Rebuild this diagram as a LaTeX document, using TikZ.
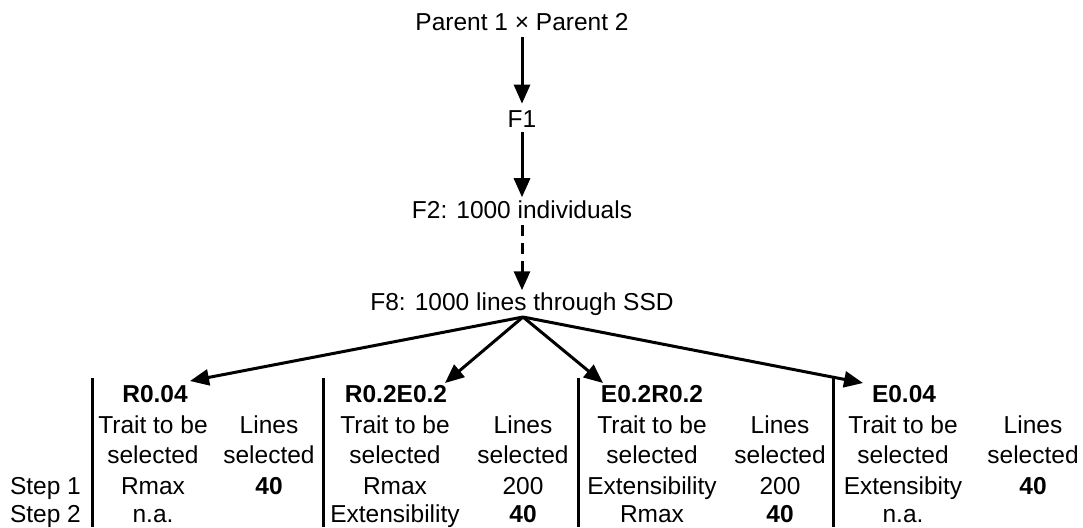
\documentclass[tikz,border=0pt]{standalone}
\usepackage{fontspec}
\setmainfont{Liberation Sans}
\usetikzlibrary{arrows.meta}
\begin{document}
\begin{tikzpicture}[x=1pt,y=-1pt,
  every node/.style={inner sep=0pt, outer sep=0pt, anchor=base, font=\fontsize{24.5}{30}\selectfont},
  hd/.style={font=\fontsize{24.5}{30}\selectfont\bfseries},
  lbl/.style={anchor=base west},
  arr/.style={line width=3pt, -{Triangle[length=19pt,width=16pt]}},
  dashedarr/.style={arr, dash pattern=on 11pt off 7pt},
  sep/.style={line width=3pt},
]
\useasboundingbox (0,0) rectangle (1083,527);
% main chain
\node (p)  at (522,31)  {Parent 1 × Parent 2};
\node (f1) at (522,127) {F1};
\node (f2) at (522,218) {F2: 1000 individuals};
\node (f8) at (522,310) {F8: 1000 lines through SSD};
\draw[arr, shorten <=6pt, shorten >=6.5pt] (p.south) -- (f1.north);
\draw[arr, shorten <=5pt, shorten >=3pt] (f1.south) -- (f2.north);
\draw[dashedarr, shorten <=7pt, shorten >=2pt] (f2.south) -- (f8.north);
% branch point and tips
\coordinate (c) at (523,317);
\coordinate (t1) at (190,381);
\coordinate (t2) at (445,383);
\coordinate (t3) at (603,383);
\coordinate (t4) at (863,383);
\draw[arr] (c) -- (t1);
\draw[arr] (c) -- (t2);
\draw[arr] (c) -- (t3);
\draw[arr] (c) -- (t4);
% dividers
\draw[sep] (92,378) -- (92,527);
\draw[sep] (323,378) -- (323,527);
\draw[sep] (578,378) -- (578,527);
\draw[sep] (833,378) -- (833,527);
% row labels
\node[lbl] (s1) at (10,494) {Step 1};
\node[lbl] (s2) at (10,522) {Step 2};
% block 1
\node[hd] (h1) at (155,402) {R0.04};
\node (a1) at (153,433) {Trait to be};
\node (b1) at (153,463) {selected};
\node (c1) at (153,494) {Rmax};
\node (d1) at (153,522) {n.a.};
\node (a1r) at (269,433) {Lines};
\node (b1r) at (269,463) {selected};
\node[hd] (c1r) at (269,494) {40};
% block 2
\node[hd] (h2) at (396,402) {R0.2E0.2};
\node (a2) at (395,433) {Trait to be};
\node (b2) at (395,463) {selected};
\node (c2) at (395,494) {Rmax};
\node (d2) at (395,522) {Extensibility};
\node (a2r) at (523,433) {Lines};
\node (b2r) at (523,463) {selected};
\node (c2r) at (523,494) {200};
\node[hd] (d2r) at (523,522) {40};
% block 3
\node[hd] (h3) at (652,402) {E0.2R0.2};
\node (a3) at (652,433) {Trait to be};
\node (b3) at (652,463) {selected};
\node (c3) at (652,494) {Extensibility};
\node (d3) at (652,522) {Rmax};
\node (a3r) at (780,433) {Lines};
\node (b3r) at (780,463) {selected};
\node (c3r) at (780,494) {200};
\node[hd] (d3r) at (780,522) {40};
% block 4
\node[hd] (h4) at (904,402) {E0.04};
\node (a4) at (903,433) {Trait to be};
\node (b4) at (903,463) {selected};
\node (c4) at (903,494) {Extensibity};
\node (d4) at (903,522) {n.a.};
\node (a4r) at (1033,433) {Lines};
\node (b4r) at (1033,463) {selected};
\node[hd] (c4r) at (1033,494) {40};
\end{tikzpicture}
\end{document}
